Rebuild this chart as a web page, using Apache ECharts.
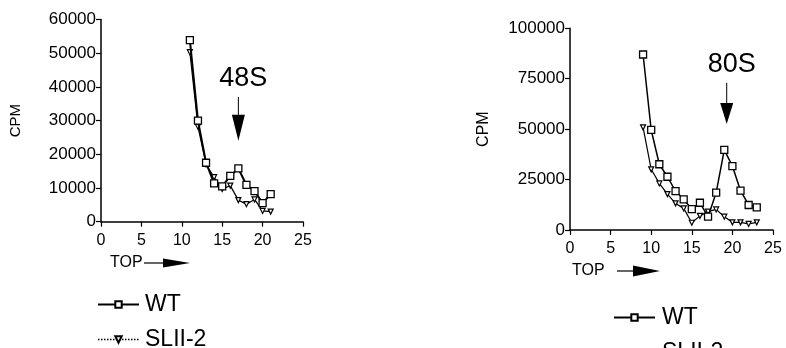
<!DOCTYPE html>
<html><head><meta charset="utf-8">
<script src="https://cdn.jsdelivr.net/npm/echarts@6/dist/echarts.min.js"></script>
<style>html,body{margin:0;padding:0;background:#fff}#c{width:786px;height:348px}</style>
</head><body><div id="c"></div>
<script>
// Left panel (48S)
const leftX = [11,12,13,14,15,16,17,18,19,20,21];
const leftWT = [53900,30000,17500,11400,10500,13600,15800,10900,9100,5500,8200];
const leftSL = [50300,28200,17000,13200,9700,10700,6400,5200,6600,3200,3000];
// Right panel (80S)
const rightX = [9,10,11,12,13,14,15,16,17,18,19,20,21,22,23];
const rightWT = [87000,49600,32600,26400,19300,15200,10300,13500,6600,18500,39700,31700,19500,12400,11200];
const rightSL = [50900,30100,23100,17800,13200,10700,3600,7000,9100,10200,6600,3800,3800,3000,3800];
const xTicks = [0,5,10,15,20,25];
const seriesNames = ['WT','SLII-2'];
const peakLabels = [{text:'48S', x:17, yText:42600, yTop:37000, yHead:31700, yTip:24000},
                    {text:'80S', x:19.3, yText:82000, yTop:73000, yHead:63000, yTip:52500}];

const FONT = "'Liberation Sans', Arial, sans-serif";
const zip = (xs, ys) => xs.map((x,i)=>[x, ys[i]]);
const triDown = 'path://M0,0L10,0L5,10Z';

function xAxis(gi){
  return {gridIndex:gi, type:'value', min:0, max:25, interval:5,
    axisLine:{lineStyle:{color:'#000', width:1.5}}, axisTick:{length:5, lineStyle:{color:'#000',width:1.2}},
    splitLine:{show:false},
    axisLabel:{color:'#000', fontSize:16, fontFamily:FONT, margin:11}};
}
function yAxis(gi, max, interval, gap, nameSize){
  return {gridIndex:gi, type:'value', min:0, max:max, interval:interval,
    name:'CPM', nameLocation:'middle', nameRotate:90, nameGap:gap,
    nameTextStyle:{color:'#000', fontSize:nameSize, fontFamily:FONT},
    axisLine:{show:true, lineStyle:{color:'#000', width:1.5}}, axisTick:{show:true, length:5, lineStyle:{color:'#000',width:1.2}},
    splitLine:{show:false},
    axisLabel:{color:'#000', fontSize:17, fontFamily:FONT, margin:5, formatter:v=>String(v)}};
}
function wtSeries(gi, data, w){
  return {name:'WT', type:'line', xAxisIndex:gi, yAxisIndex:gi, data:data,
    symbol:'rect', symbolSize:7, showAllSymbol:true,
    lineStyle:{color:'#000', width:w}, itemStyle:{color:'#fff', borderColor:'#000', borderWidth:1.3}, z:3};
}
function slSeries(gi, data){
  return {name:'SLII-2', type:'line', xAxisIndex:gi, yAxisIndex:gi, data:data,
    symbol:triDown, symbolSize:5, showAllSymbol:true,
    lineStyle:{color:'#000', width:1.2}, itemStyle:{color:'#fff', borderColor:'#000', borderWidth:1.2}, z:2};
}
function legend(left, top, pad){
  return {orient:'vertical', left:left, top:top, height:120, itemWidth:41, itemHeight:8, itemGap:12,
    textStyle:{color:'#000', fontSize:23, fontFamily:FONT, padding:[0,0,0,pad]},
    data:[{name:'WT', lineStyle:{width:2}},
          {name:'SLII-2', lineStyle:{type:'dotted', width:1.5}}]};
}

const chart = echarts.init(document.getElementById('c'), null, {renderer:'canvas'});
chart.setOption({
  animation:false,
  backgroundColor:'#fff',
  grid:[{left:101, top:19.5, width:202, height:202.2},
        {left:570, top:28.3, width:203, height:201.7}],
  xAxis:[xAxis(0), xAxis(1)],
  yAxis:[yAxis(0, 60000, 10000, 78, 15), yAxis(1, 100000, 25000, 78, 16)],
  legend:[legend(92, 288, 1), legend(608, 301, 2)],
  series:[wtSeries(0, zip(leftX,leftWT), 2), slSeries(0, zip(leftX,leftSL)),
          wtSeries(1, zip(rightX,rightWT), 1.5), slSeries(1, zip(rightX,rightSL))]
});

// Annotations: peak labels with arrows, "TOP" direction labels
const g = [];
peakLabels.forEach((p, gi) => {
  const t = chart.convertToPixel({gridIndex:gi}, [p.x, p.yText]);
  const a = chart.convertToPixel({gridIndex:gi}, [p.x, p.yTop]);
  const h = chart.convertToPixel({gridIndex:gi}, [p.x, p.yHead]);
  const tip = chart.convertToPixel({gridIndex:gi}, [p.x, p.yTip]);
  g.push({type:'text', x:t[0]+5, y:t[1], style:{text:p.text, fill:'#000', font:'27px '+FONT, textAlign:'center', textVerticalAlign:'middle'}});
  g.push({type:'line', shape:{x1:a[0], y1:a[1], x2:h[0], y2:h[1]}, style:{stroke:'#000', lineWidth:1}});
  g.push({type:'polygon', shape:{points:[[h[0]-6.5,h[1]],[h[0]+6.5,h[1]],[tip[0],tip[1]]]}, style:{fill:'#000'}});
});
const tops = [{x:110, y:263, lx1:144, lx2:164, tx2:190, hh:9},
              {x:572, y:271, lx1:617, lx2:634, tx2:660, hh:11}];
tops.forEach(o => {
  g.push({type:'text', x:o.x, y:o.y, style:{text:'TOP', fill:'#000', font:'16px '+FONT, textVerticalAlign:'middle'}});
  g.push({type:'line', shape:{x1:o.lx1, y1:o.y, x2:o.lx2, y2:o.y}, style:{stroke:'#000', lineWidth:1.2}});
  g.push({type:'polygon', shape:{points:[[o.lx2-1,o.y-o.hh/2],[o.tx2,o.y],[o.lx2-1,o.y+o.hh/2]]}, style:{fill:'#000'}});
});
chart.setOption({graphic:g});
</script></body></html>
